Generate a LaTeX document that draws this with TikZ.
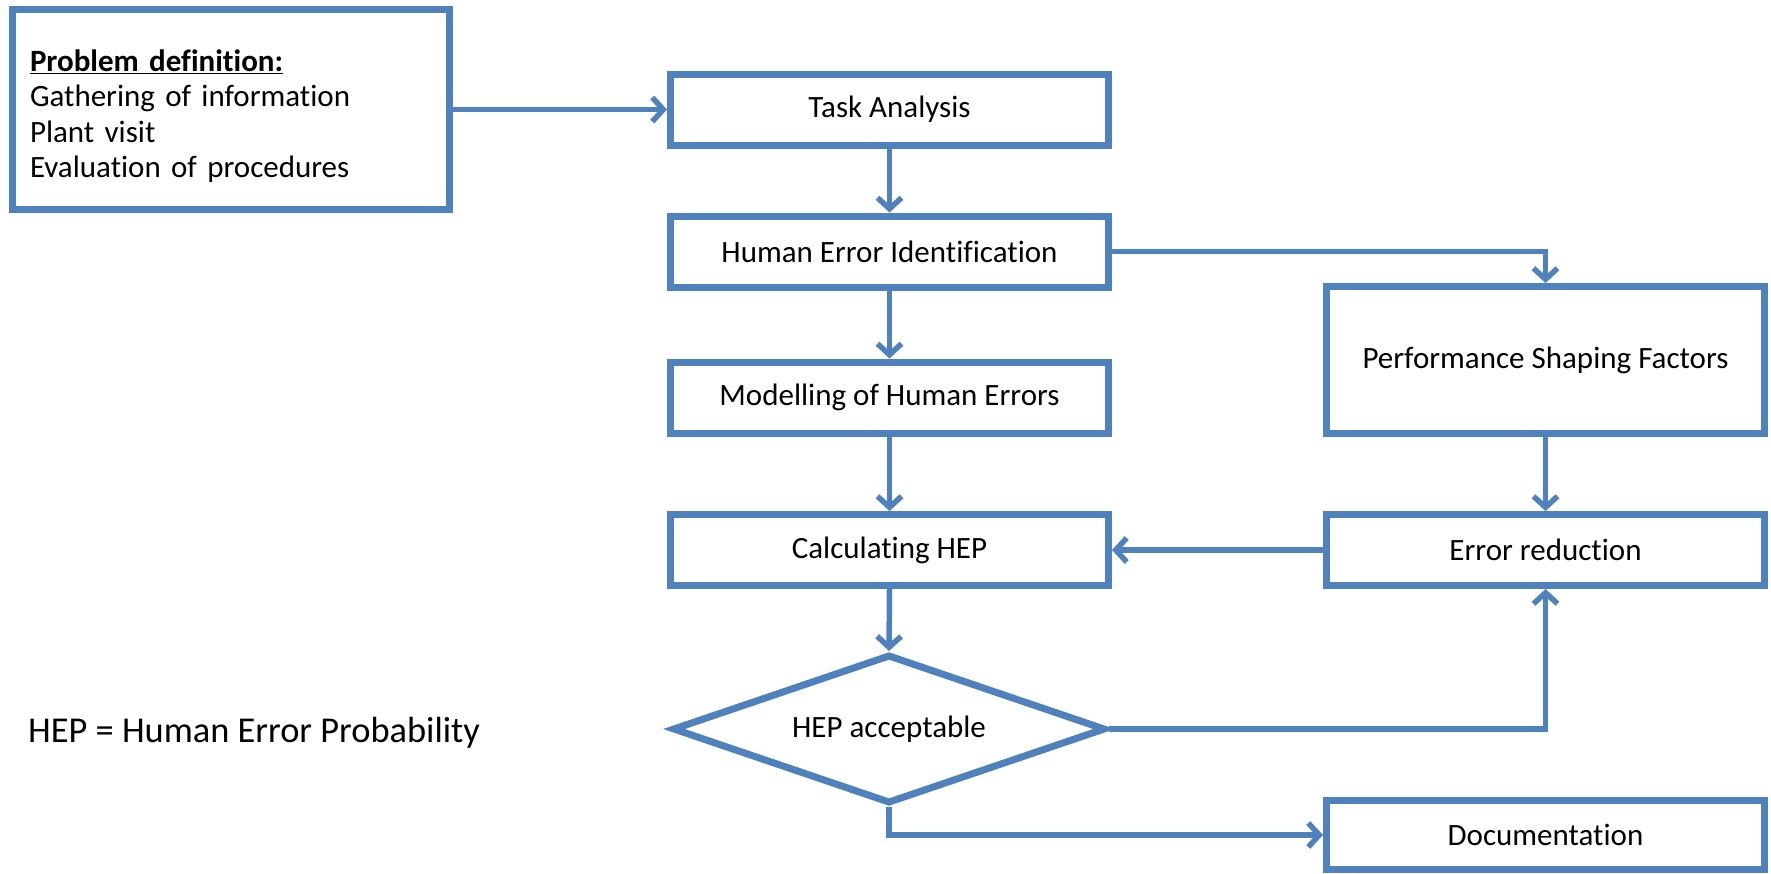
\documentclass[tikz,border=0pt]{standalone}
\usepackage{fontspec}
\setmainfont{Carlito}[Ligatures=NoCommon]
\usetikzlibrary{arrows.meta,shapes.geometric}
\definecolor{flowblue}{HTML}{4F81BD}
\tikzset{
  stepbox/.style={draw=flowblue, line width=7pt, fill=white, rectangle,
    minimum width=438pt, minimum height=71pt, inner sep=0pt,
    font=\fontsize{31}{36}\selectfont},
  decision/.style={draw=flowblue, line width=7pt, fill=white, diamond,
    minimum width=433pt, minimum height=149pt, inner sep=0pt, aspect=3,
    font=\fontsize{31}{36}\selectfont},
  flow/.style={draw=flowblue, line width=5.5pt,
    -{Straight Barb[length=11pt,width=24pt,line width=5.5pt]}}
}
\begin{document}
\begin{tikzpicture}[x=1pt,y=-1pt]
  \useasboundingbox (0,0) rectangle (1771,873);

  % problem definition box
  \node[stepbox, minimum width=437pt, minimum height=200pt, align=left,
        text width=402pt, inner xsep=17.5pt,
        font=\fontsize{31}{35.5}\selectfont] (prob) at (231,109.5)
    {\rule{0pt}{35pt}\underline{\textbf{Problem definition:}}\\
     Gathering of information\\
     Plant visit\\
     Evaluation of procedures};

  % main column
  \node[stepbox] (task) at (889.5,109.5) {Task Analysis};
  \node[stepbox] (hei)  at (889.5,251.5) {Human Error Identification};
  \node[stepbox] (mod)  at (889.5,397.5) {Modelling of Human Errors};
  \node[stepbox] (calc) at (889.5,550)   {Calculating HEP};
  \node[decision] (dia) at (889,729)     {HEP acceptable};

  % right column
  \node[stepbox, minimum height=147pt] (psf) at (1545.5,360) {Performance Shaping Factors};
  \node[stepbox] (err) at (1545.5,550) {Error reduction};
  \node[stepbox, minimum height=69pt] (doc) at (1545.5,835) {Documentation};

  % legend
  \node[font=\fontsize{36.4}{42}\selectfont, anchor=west, inner sep=0pt] (legend)
    at (28,733) {HEP = Human Error Probability};

  % connectors
  \draw[flow] (prob.east) -- (task.west);
  \draw[flow] (task.south) -- (hei.north);
  \draw[flow] (hei.east) -| (psf.north);
  \draw[flow] (hei.south) -- (mod.north);
  \draw[flow] (mod.south) -- (calc.north);
  \draw[flow] (calc.south) -- (dia.north);
  \draw[flow] (psf.south) -- (err.north);
  \draw[flow] (err.west) -- (calc.east);
  \draw[flow] (dia.east) -| (err.south);
  \draw[flow] (dia.south) |- (doc.west);
\end{tikzpicture}
\end{document}
